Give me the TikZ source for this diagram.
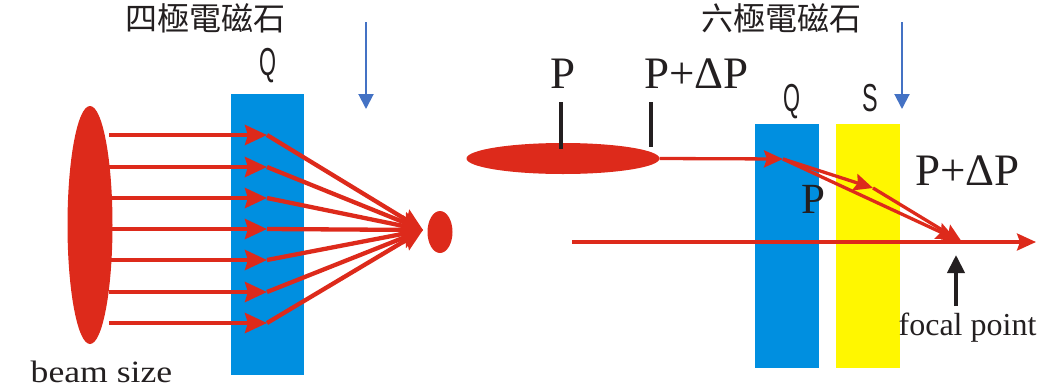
\documentclass[tikz,border=0pt]{standalone}
\usepackage{fontspec}
\setmainfont{Liberation Serif}
\newfontfamily\cjk{Noto Sans CJK TC}
\newfontfamily\labelsans{Liberation Sans}
\usetikzlibrary{arrows.meta,shapes.geometric}
\definecolor{bred}{RGB}{221,42,27}
\definecolor{qblue}{RGB}{0,143,224}
\definecolor{syellow}{RGB}{255,247,0}
\definecolor{ablue}{RGB}{68,114,196}
\definecolor{ink}{RGB}{35,31,32}
\begin{document}
\begin{tikzpicture}[x=1pt,y=-1pt,
  magnet/.style={draw=none,rectangle,inner sep=0pt},
  beam/.style={ellipse,fill=bred,draw=none,inner sep=0pt},
  headL/.tip={Stealth[length=22pt 0 0,width=20pt 0,inset=3pt 0]},
  headR/.tip={Stealth[length=19pt 0 0,width=17pt 0,inset=3pt 0]},
  rayL/.style={draw=bred,line width=4.3pt,-headL},
  rayR/.style={draw=bred,line width=3.3pt,-headR},
  rayplain/.style={draw=bred,line width=3.3pt},
  marker/.style={draw=ink,line width=3.6pt},
  bluearrow/.style={draw=ablue,line width=2pt,-{Triangle[length=15pt 0 0,width=15pt 0]}},
  blackarrow/.style={draw=ink,line width=4pt,-{Triangle[length=18pt 0 0,width=17pt 0]}},
  serif/.style={text=ink,inner sep=0pt,anchor=base},
  cjklabel/.style={text=ink,inner sep=0pt,anchor=center,font=\cjk\fontsize{32}{34}\selectfont},
  maglabel/.style={text=ink,inner sep=0pt,anchor=base,font=\labelsans\fontsize{39}{42}\selectfont}
]
\useasboundingbox (0,0) rectangle (1050,389);

% ---------- left: quadrupole ----------
\node[magnet,fill=qblue,minimum width=73pt,minimum height=281pt] (qL) at (267.5,234.5) {};
\node[beam,minimum width=45pt,minimum height=238pt] (bigbeam) at (90,225) {};
\node[beam,minimum width=25pt,minimum height=42pt] (spot) at (440,232) {};
\coordinate (focusL) at (423,230);
\foreach \i/\y in {1/135,2/167,3/198,4/229,5/260,6/292,7/323}{
  \coordinate (s\i) at (109,\y);
  \coordinate (m\i) at (267,\y);
  \draw[rayL] (m\i) -- (focusL);
}
\foreach \i in {1,...,7}{
  \draw[rayL] (s\i) -- (m\i);
}
\coordinate (baL) at (366,22);
\coordinate (bbL) at (366,109);
\draw[bluearrow] (baL) -- (bbL);
\node[cjklabel] (titleL) at (205,18) {四極電磁石};
\node[maglabel] (QL) at (268,75) {\scalebox{0.56}[1]{Q}};
\node[serif,font=\fontsize{31}{34}\selectfont] (bs) at (101.5,382) {\scalebox{1.15}[1]{beam size}};

% ---------- right: sextupole ----------
\node[magnet,fill=qblue,minimum width=64pt,minimum height=244pt] (qR) at (787,246) {};
\node[magnet,fill=syellow,minimum width=64pt,minimum height=244pt] (sR) at (868,246) {};
\node[beam,minimum width=193pt,minimum height=31pt] (flatbeam) at (563,158.5) {};

\coordinate (t1a) at (561,102);
\coordinate (t1b) at (561,149);
\coordinate (t2a) at (651,102);
\coordinate (t2b) at (651,147);
\draw[marker] (t1a) -- (t1b);
\draw[marker] (t2a) -- (t2b);

\coordinate (bend) at (783,159);
\coordinate (mid) at (873,188);
\coordinate (focal) at (962,242);
\coordinate (focal2) at (955.5,239);
\coordinate (axs) at (572,242);
\coordinate (axe) at (1036,242);
\draw[rayplain] (axs) -- (focal);
\draw[rayR] (focal) -- (axe);
\draw[rayR] (bend) -- (mid);
\draw[rayR] (mid) -- (focal);
\draw[rayR] (bend) -- (focal2);
\draw[rayR] (flatbeam.east) -- (bend);

\coordinate (fa) at (956,306);
\coordinate (fb) at (956,255);
\draw[blackarrow] (fa) -- (fb);

\coordinate (baR) at (902,22);
\coordinate (bbR) at (902,109);
\draw[bluearrow] (baR) -- (bbR);

\node[cjklabel] (titleR) at (781.5,18) {六極電磁石};
\node[maglabel] (QR) at (792,111) {\scalebox{0.56}[1]{Q}};
\node[maglabel] (SR) at (870,111) {\scalebox{0.6}[1]{S}};
\node[serif,font=\fontsize{45}{50}\selectfont] (Ptop) at (563,88) {P};
\node[serif,font=\fontsize{45}{50}\selectfont] (PdPtop) at (696.5,88) {P+ΔP};
\node[serif,font=\fontsize{45}{50}\selectfont] (PdPright) at (967.5,185) {P+ΔP};
\node[serif,font=\fontsize{43}{48}\selectfont] (Pin) at (813,213) {P};
\node[serif,font=\fontsize{32}{35}\selectfont] (fp) at (967.5,335) {focal point};
\end{tikzpicture}
\end{document}
